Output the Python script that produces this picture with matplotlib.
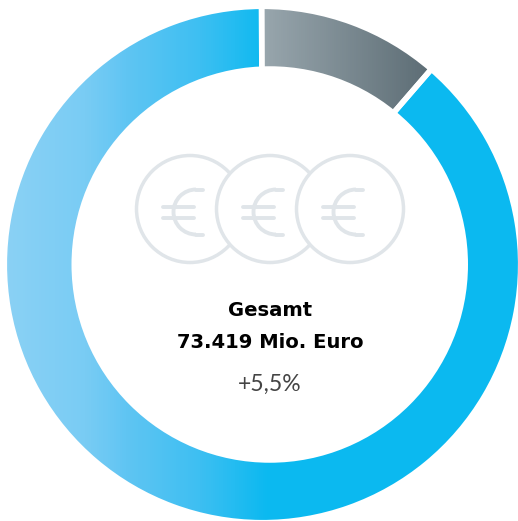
import numpy as np
import matplotlib
matplotlib.use('Agg')
import matplotlib.pyplot as plt
from matplotlib.colors import LinearSegmentedColormap
from matplotlib.patches import Circle, Arc

# Anteile am Gesamtwert in Prozent, geschaetzt aus dem Bild
shares = [11.4, 88.6]
total_title = 'Gesamt'
total_value = '73.419 Mio. Euro'
total_change = '+5,5%'

W, H = 518, 521
cx, cy = 262.5, H - 264.5
icon_color = '#e0e5e9'

fig = plt.figure(figsize=(W / 100, H / 100), dpi=100)
ax = fig.add_axes([0, 0, 1, 1])

wedges, _ = ax.pie(shares, startangle=90.2, counterclock=False, center=(cx, cy), radius=258.2,
                   colors=['none', 'none'], wedgeprops={'edgecolor': 'none'})

# Verlaeufe, auf die Segmente beschnitten
grad = np.linspace(0, 1, 518).reshape(1, -1)
grey = LinearSegmentedColormap.from_list('grey', [(0, '#98a6ad'), (264 / 518, '#98a6ad'),
                                                  (430 / 518, '#5d6d75'), (1, '#5d6d75')])
blue = LinearSegmentedColormap.from_list('blue', [(0, '#8ad1f5'), (7 / 518, '#8ad1f5'),
                                                  (85 / 518, '#79ccf4'), (125 / 518, '#60c5f3'),
                                                  (200 / 518, '#3dbff2'), (268 / 518, '#0bb9f0'),
                                                  (1, '#0bb9f0')])
for w, cmap in zip(wedges, [grey, blue]):
    im = ax.imshow(grad, cmap=cmap, extent=(0, W, 0, H), aspect='auto', zorder=1)
    im.set_clip_path(w)
    # weisser Rand ergibt die Luecken zwischen den Segmenten
    w.set_facecolor('none')
    w.set_edgecolor('white')
    w.set_linewidth(4)
    w.set_zorder(2)

# Loch sitzt leicht versetzt zur Aussenkante
ax.add_patch(Circle((269.75, cy), 198.25, fc='white', ec='none', zorder=3))

# Muenzen
for x0 in [190, 270, 350]:
    y0 = H - 209
    ax.add_patch(Circle((x0, y0), 53.5, fc='white', ec=icon_color, lw=2.5, zorder=4))
    ax.add_patch(Arc((x0 + 6, y0 - 3), 45, 45, theta1=90, theta2=270, ec=icon_color, lw=2.8, zorder=5))
    for yy in [y0 + 19.5, y0 - 25.5]:
        ax.plot([x0 + 6, x0 + 13], [yy, yy], color=icon_color, lw=2.8,
                solid_capstyle='round', zorder=5)
    for yy in [y0 + 2, y0 - 9]:
        ax.plot([x0 - 27, x0 + 4], [yy, yy], color=icon_color, lw=2.8,
                solid_capstyle='round', zorder=5)

ax.text(270, H - 310, total_title, ha='center', va='center', fontsize=14.1,
        fontfamily='DejaVu Sans', fontweight='bold', color='black', zorder=6)
ax.text(270, H - 342, total_value, ha='center', va='center', fontsize=14.1,
        fontfamily='DejaVu Sans', fontweight='bold', color='black', zorder=6)
ax.text(270, H - 384, total_change, ha='center', va='center', fontsize=16.6,
        fontfamily='Lato', fontweight='normal', color='#444444', zorder=6)

ax.set_xlim(0, W)
ax.set_ylim(0, H)
ax.axis('off')

plt.savefig('out.png', dpi=100)
